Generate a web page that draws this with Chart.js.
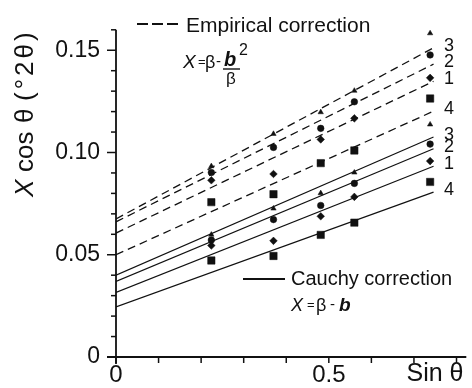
<!DOCTYPE html>
<html>
<head>
<meta charset="utf-8">
<script src="https://cdn.jsdelivr.net/npm/chart.js@4/dist/chart.umd.min.js"></script>
<style>
  html, body { margin: 0; padding: 0; background: #fff; }
  #wrap { width: 472px; height: 388px; }
</style>
</head>
<body>
<div id="wrap"><canvas id="c" width="472" height="388"></canvas></div>
<script>
// sin θ of the five measured reflections
const sinTheta = [0.224, 0.370, 0.481, 0.560, 0.738];

// Sample numbers, in the order the series are listed below
const sampleIds = ['3', '2', '1', '4'];

// X cos θ (°2θ) with the empirical correction  X = β − b²/β
const empSample3 = [0.0933, 0.1091, 0.1197, 0.1302, 0.1583];
const empSample2 = [0.0902, 0.1025, 0.1118, 0.1248, 0.1477];
const empSample1 = [0.0864, 0.0895, 0.1064, 0.1167, 0.1365];
const empSample4 = [0.0757, 0.0796, 0.0948, 0.1010, 0.1264];

// X cos θ (°2θ) with the Cauchy correction  X = β − b
const cauSample3 = [0.0598, 0.0726, 0.0801, 0.0902, 0.1137];
const cauSample2 = [0.0572, 0.0672, 0.0741, 0.0849, 0.1041];
const cauSample1 = [0.0545, 0.0568, 0.0688, 0.0783, 0.0958];
const cauSample4 = [0.0472, 0.0494, 0.0597, 0.0657, 0.0856];

// Fitted straight lines: value at sin θ = 0 and at the last sin θ of the fit
const fitX = [0, 0.746];
const empFitStart = [0.0675, 0.0661, 0.0606, 0.0500];
const empFitEnd   = [0.1512, 0.1432, 0.1348, 0.1202];
const cauFitStart = [0.0400, 0.0370, 0.0316, 0.0245];
const cauFitEnd   = [0.1076, 0.1018, 0.0933, 0.0806];

// Axis ticks
const xTickLabels = { 0: '0', 5: '0.5' };          // keyed by tenths
const yTickLabels = { 0: '0', 5: '0.05', 10: '0.10', 15: '0.15' }; // keyed by hundredths

const empSeries = [empSample3, empSample2, empSample1, empSample4];
const cauSeries = [cauSample3, cauSample2, cauSample1, cauSample4];
const markers = ['triangle', 'circle', 'rectRot', 'rect'];
const markerSize = { triangle: 3.1, circle: 3.3, rectRot: 3.8, rect: 5.2 };

const INK = '#111';
const FONT = "'Liberation Sans', Arial, Helvetica, sans-serif";

const datasets = [];
sampleIds.forEach((id, i) => {
  datasets.push({
    label: 'empirical fit ' + id,
    data: fitX.map((x, k) => ({ x, y: k === 0 ? empFitStart[i] : empFitEnd[i] })),
    showLine: true, borderColor: INK, borderWidth: 1.3, borderDash: [8, 5],
    pointRadius: 0, fill: false
  });
  datasets.push({
    label: 'Cauchy fit ' + id,
    data: fitX.map((x, k) => ({ x, y: k === 0 ? cauFitStart[i] : cauFitEnd[i] })),
    showLine: true, borderColor: INK, borderWidth: 1.2,
    pointRadius: 0, fill: false
  });
  const style = markers[i];
  datasets.push({
    label: 'empirical ' + id,
    data: sinTheta.map((x, k) => ({ x, y: empSeries[i][k] })),
    showLine: false, pointStyle: style, pointRadius: markerSize[style],
    pointBackgroundColor: INK, pointBorderColor: INK, pointBorderWidth: 0.5
  });
  datasets.push({
    label: 'Cauchy ' + id,
    data: sinTheta.map((x, k) => ({ x, y: cauSeries[i][k] })),
    showLine: false, pointStyle: style, pointRadius: markerSize[style],
    pointBackgroundColor: INK, pointBorderColor: INK, pointBorderWidth: 0.5
  });
});

// Axes, tick marks, line numbers and the two correction keys
const decorations = {
  id: 'decorations',
  afterDraw(chart) {
    const ctx = chart.ctx;
    const xs = chart.scales.x, ys = chart.scales.y;
    const x0 = xs.getPixelForValue(0), y0 = ys.getPixelForValue(0);
    const area = chart.chartArea;
    ctx.save();
    ctx.strokeStyle = INK; ctx.fillStyle = INK;

    // axis lines
    ctx.lineWidth = 1.8;
    ctx.beginPath();
    ctx.moveTo(x0, area.top); ctx.lineTo(x0, y0 + 7);
    ctx.moveTo(x0 - 9, y0); ctx.lineTo(area.right, y0);
    ctx.stroke();

    // y ticks (outward, longer at labelled values)
    ctx.lineWidth = 1.5;
    ys.ticks.forEach(t => {
      const h = Math.round(t.value * 100);
      const py = ys.getPixelForValue(t.value);
      const len = h % 5 === 0 ? 9 : 5;
      ctx.beginPath(); ctx.moveTo(x0 - len, py); ctx.lineTo(x0, py); ctx.stroke();
    });
    // x ticks (downward)
    xs.ticks.forEach(t => {
      const px = xs.getPixelForValue(t.value);
      ctx.beginPath(); ctx.moveTo(px, y0); ctx.lineTo(px, y0 + 6); ctx.stroke();
    });

    // x-axis name beside the tick labels
    ctx.font = '25px ' + FONT;
    ctx.textAlign = 'center'; ctx.textBaseline = 'alphabetic';
    ctx.fillText('Sin θ', 435, 381);

    // y-axis title, read bottom to top
    ctx.save();
    ctx.translate(33, 0);
    ctx.rotate(-Math.PI / 2);
    ctx.textAlign = 'left'; ctx.textBaseline = 'alphabetic';
    ctx.font = 'italic 26px ' + FONT;
    ctx.fillText('X', -197, 0);
    ctx.font = '26px ' + FONT;
    ctx.fillText('cos', -172, 0);
    ctx.fillText('θ', -123, 0);
    ctx.letterSpacing = '3px';
    ctx.fillText('(°2θ)', -101, 0);
    ctx.letterSpacing = '0px';
    ctx.restore();

    // sample numbers at the right end of each fitted line
    ctx.font = '18px ' + FONT;
    ctx.textAlign = 'center'; ctx.textBaseline = 'middle';
    sampleIds.forEach((id, i) => {
      ctx.fillText(id, 449, ys.getPixelForValue(empFitEnd[i]) - 2);
      ctx.fillText(id, 449, ys.getPixelForValue(cauFitEnd[i]) - 2);
    });

    // key: empirical correction
    ctx.lineWidth = 2;
    ctx.setLineDash([11, 4]);
    ctx.beginPath(); ctx.moveTo(137, 24); ctx.lineTo(179, 24); ctx.stroke();
    ctx.setLineDash([]);
    ctx.textAlign = 'left'; ctx.textBaseline = 'alphabetic';
    ctx.font = '21px ' + FONT;
    ctx.fillText('Empirical correction', 186, 32);

    ctx.font = 'italic 19px ' + FONT;
    ctx.fillText('X', 183, 68);
    ctx.font = '13px ' + FONT;
    ctx.fillText('=', 198, 66);
    ctx.font = '18px ' + FONT;
    ctx.fillText('β', 205, 68);
    ctx.font = '15px ' + FONT;
    ctx.fillText('-', 216, 66);
    ctx.font = 'italic bold 20px ' + FONT;
    ctx.fillText('b', 224, 66);
    ctx.font = '16px ' + FONT;
    ctx.fillText('2', 239, 55);
    ctx.lineWidth = 1.4;
    ctx.beginPath(); ctx.moveTo(223, 69); ctx.lineTo(240, 69); ctx.stroke();
    ctx.font = '17px ' + FONT;
    ctx.fillText('β', 226, 84);

    // key: Cauchy correction
    ctx.lineWidth = 1.8;
    ctx.beginPath(); ctx.moveTo(243, 279); ctx.lineTo(285, 279); ctx.stroke();
    ctx.font = '20px ' + FONT;
    ctx.fillText('Cauchy correction', 291, 285);
    ctx.font = 'italic 18px ' + FONT;
    ctx.fillText('X', 291, 311);
    ctx.font = '13px ' + FONT;
    ctx.fillText('=', 307, 309);
    ctx.font = '18px ' + FONT;
    ctx.fillText('β', 316, 311);
    ctx.font = '15px ' + FONT;
    ctx.fillText('-', 330, 309);
    ctx.font = 'italic bold 19px ' + FONT;
    ctx.fillText('b', 339, 311);

    ctx.restore();
  }
};

new Chart(document.getElementById('c'), {
  type: 'scatter',
  data: { datasets },
  options: {
    responsive: false,
    animation: false,
    devicePixelRatio: 1,
    layout: { padding: { left: 0, right: 2, top: 10, bottom: 0 } },
    plugins: { legend: { display: false }, tooltip: { enabled: false } },
    scales: {
      x: {
        type: 'linear', position: 'bottom', min: 0, max: 0.823,
        grid: { display: false, drawTicks: false }, border: { display: false },
        afterFit(s) { s.height = 31; },
        ticks: {
          stepSize: 0.1, includeBounds: false, autoSkip: false, maxRotation: 0,
          padding: 4, color: INK, font: { family: FONT, size: 24 },
          callback: v => xTickLabels[Math.round(v * 10)] ?? ''
        }
      },
      y: {
        type: 'linear', position: 'left', min: 0, max: 0.16,
        grid: { display: false, drawTicks: false }, border: { display: false },
        afterFit(s) { s.width = 116; },
        ticks: {
          stepSize: 0.01, includeBounds: false, autoSkip: false,
          padding: 16, color: INK, font: { family: FONT, size: 23 },
          callback: v => yTickLabels[Math.round(v * 100)] ?? ''
        }
      }
    }
  },
  plugins: [decorations]
});
</script>
</body>
</html>
